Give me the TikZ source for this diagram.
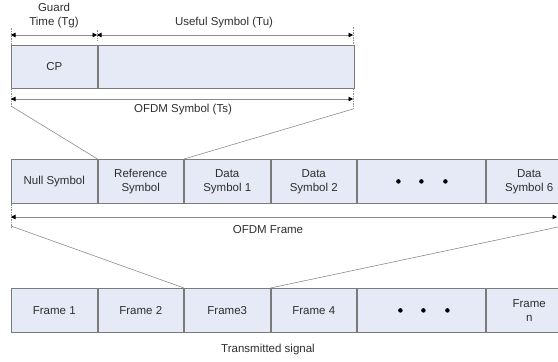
\documentclass[tikz,border=0pt]{standalone}
\usepackage{fontspec}
\setmainfont{Liberation Sans}
\usetikzlibrary{arrows.meta}
\definecolor{cellfill}{HTML}{E6EAF6}
\definecolor{cellline}{HTML}{7A7A7A}
\definecolor{guide}{HTML}{8C8C8C}
\definecolor{txt}{HTML}{2E2E2E}

\begin{document}
\begin{tikzpicture}[x=1pt,y=-1pt,
  cell/.style={draw=cellline, fill=cellfill, line width=0.8pt, minimum height=44pt,
    inner sep=0pt, text=txt, align=center, anchor=north west,
    font=\fontsize{11.5}{14}\selectfont},
  lbl/.style={text=txt, align=center, inner sep=0pt, font=\fontsize{11.5}{14}\selectfont},
  dim/.style={draw=guide, line width=0.6pt, {Triangle[length=4.5pt,width=4.5pt,black]}-{Triangle[length=4.5pt,width=4.5pt,black]}},
  tickline/.style={draw=guide, line width=0.5pt, dash pattern=on 1.5pt off 1pt},
  fan/.style={draw=guide, line width=0.6pt},
  dotmark/.style={circle, fill=black, inner sep=0pt, minimum size=4.5pt}
]
\useasboundingbox (0,0) rectangle (558,362);
\clip (0,0) rectangle (558,362);

% ---- OFDM symbol: cyclic prefix + useful part ----
\node[cell, minimum width=86pt, minimum height=43pt] (cp) at (11,45) {CP};
\node[cell, minimum width=256pt, minimum height=43pt] (tu) at (cp.north east) {};

% dimension guides above and below the symbol
\coordinate (gL) at (11,35);
\coordinate (gM) at (97,35);
\coordinate (gR) at (353,35);
\coordinate (sL) at (11,99);
\coordinate (sR) at (353,99);
\draw[tickline] (11,28) -- (11,45);
\draw[tickline] (97,30) -- (97,41);
\draw[tickline] (353,27) -- (353,45);
\draw[tickline] (11,88) -- (11,106);
\draw[tickline] (353,88) -- (353,109);
\draw[dim] (gL) -- (gM);
\draw[dim] (gM) -- (gR);
\draw[dim] (sL) -- (sR);

\node[lbl] (tglab) at (54,16) {Guard\\Time (Tg)};
\node[lbl] (tulab) at (224,23) {Useful Symbol (Tu)};
\node[lbl] (tslab) at (183,110) {OFDM Symbol (Ts)};

% ---- OFDM frame ----
\node[cell, minimum width=85.7pt] (null) at (11,159) {Null Symbol};
\node[cell, minimum width=85.7pt] (ref) at (null.north east) {Reference\\Symbol};
\node[cell, minimum width=85.7pt] (d1) at (ref.north east) {Data\\Symbol 1};
\node[cell, minimum width=85.7pt] (d2) at (d1.north east) {Data\\Symbol 2};
\node[cell, minimum width=128pt] (dd) at (d2.north east) {};
\node[cell, minimum width=86pt] (d6) at (dd.north east) {Data\\Symbol 6};
\foreach \dx [count=\i] in {-23,0,24}
  \node[dotmark] (fdot\i) at ([xshift=\dx pt]dd.center) {};

% fan from the symbol down to the reference symbol slot
\coordinate (tsL) at (11,106);
\coordinate (tsR) at (353,109);
\draw[fan] (tsL) -- (ref.north west);
\draw[fan] (tsR) -- (d1.north west);

% frame dimension guide
\coordinate (fL) at (11,217);
\coordinate (fR) at (557,217);
\draw[tickline] (11,204) -- (11,227);
\draw[dim] (fL) -- (fR);
\node[lbl] (framelab) at (268,230) {OFDM Frame};

% ---- transmitted signal ----
\node[cell, minimum width=85.7pt] (f1) at (11,288) {Frame 1};
\node[cell, minimum width=85.7pt] (f2) at (f1.north east) {Frame 2};
\node[cell, minimum width=85.7pt] (f3) at (f2.north east) {Frame3};
\node[cell, minimum width=85.7pt] (f4) at (f3.north east) {Frame 4};
\node[cell, minimum width=128pt] (fd) at (f4.north east) {};
\node[cell, minimum width=86pt] (fn) at (fd.north east) {Frame\\n};
\foreach \dx [count=\i] in {-21,2,26}
  \node[dotmark] (sdot\i) at ([xshift=\dx pt]fd.center) {};

% fan from the frame down to frame 3
\coordinate (ofL) at (11,226);
\coordinate (ofR) at (558,227);
\draw[fan] (ofL) -- (f3.north west);
\draw[fan] (ofR) -- (f4.north west);

\node[lbl] (siglab) at (268,350) {Transmitted signal};
\end{tikzpicture}
\end{document}
